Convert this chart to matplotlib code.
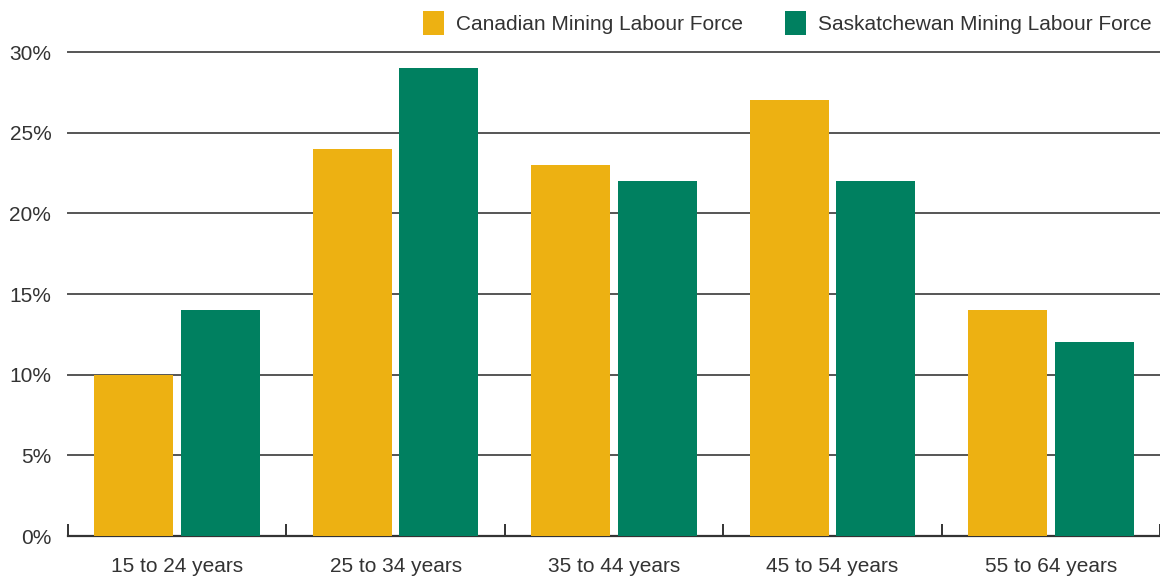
import matplotlib
matplotlib.use("Agg")
import matplotlib.pyplot as plt
import numpy as np

categories = ["15 to 24 years", "25 to 34 years", "35 to 44 years", "45 to 54 years", "55 to 64 years"]
canadian = [10, 24, 23, 27, 14]
saskatchewan = [14, 29, 22, 22, 12]
series_names = ["Canadian Mining Labour Force", "Saskatchewan Mining Labour Force"]
yticks = [0, 5, 10, 15, 20, 25, 30]

plt.rcParams['font.family'] = ["Liberation Sans", 'DejaVu Sans']

fig = plt.figure(figsize=(11.6, 5.77), dpi=100)
ax = fig.add_axes([68/1160, (577-536)/577, 1 - 68/1160, (536-52)/577])

x = np.arange(len(categories))
w = 0.362
c1, c2 = "#EDB112", "#008060"
ax.bar(x - 0.198, canadian, w, color=c1, label=series_names[0], zorder=3)
ax.bar(x + 0.198, saskatchewan, w, color=c2, label=series_names[1], zorder=3)

ax.set_xlim(-0.5, len(categories) - 0.5)
ax.set_ylim(0, 30)
ax.set_yticks(yticks)
ax.set_yticklabels([f"{v}%" for v in yticks], fontsize=15, color="#333333")
ax.yaxis.grid(True, color="#555555", linewidth=1.4, zorder=0)
for gl in ax.get_ygridlines():
    gl.set_clip_on(False)
ax.tick_params(axis='y', length=0, pad=12)

ax.set_xticks(x)
ax.set_xticklabels(categories, fontsize=15, color="#333333")
ax.tick_params(axis='x', which='major', length=0, pad=15)
ax.set_xticks(np.arange(-0.5, len(categories)), minor=True)
ax.tick_params(axis='x', which='minor', direction='in', length=9, width=1.4, color="#333333")

for s in ["top", "right", "left"]:
    ax.spines[s].set_visible(False)
ax.spines["bottom"].set_color("#333333")
ax.spines["bottom"].set_linewidth(1.6)
ax.set_axisbelow(True)

leg = fig.legend(loc="upper right", bbox_to_anchor=(1.0, 0.995), ncol=2, frameon=False,
                 fontsize=15, handlelength=1.0, handleheight=1.4, handletextpad=0.6,
                 columnspacing=2.0, borderaxespad=0.0)
for t in leg.get_texts():
    t.set_color("#333333")

fig.savefig("out.png", dpi=100)
